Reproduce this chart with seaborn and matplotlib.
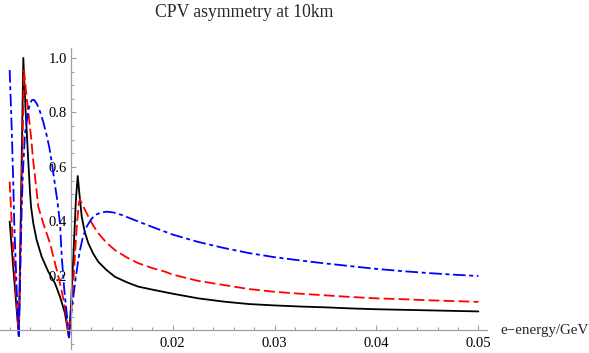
import numpy as np
import pandas as pd
import matplotlib
matplotlib.use("Agg")
import matplotlib.pyplot as plt
import seaborn as sns
from matplotlib.ticker import FixedLocator, FixedFormatter

# ---- data ----
black_x = [0.00400, 0.00445, 0.00490, 0.00512, 0.00534, 0.00557, 0.00583, 0.00600,
           0.00610, 0.00632, 0.00665, 0.00714, 0.00779, 0.00845, 0.00894, 0.00943,
           0.00982, 0.01000, 0.01025, 0.01050, 0.01068, 0.01085, 0.01107, 0.01135,
           0.01172, 0.01220, 0.01270, 0.01350, 0.01434, 0.01550, 0.01662, 0.01800,
           0.02000, 0.02250, 0.02500, 0.02750, 0.03000, 0.03250, 0.03500, 0.03750,
           0.04000, 0.04250, 0.04500, 0.04750, 0.05000]
black_y = [0.400, 0.185, -0.020, 0.490, 1.000, 0.803, 0.620, 0.505,
           0.454, 0.393, 0.332, 0.271, 0.216, 0.173, 0.124, 0.063,
           -0.025, 0.080, 0.270, 0.480, 0.567, 0.500, 0.418, 0.365,
           0.320, 0.282, 0.252, 0.222, 0.197, 0.177, 0.161, 0.150,
           0.135, 0.118, 0.106, 0.097, 0.092, 0.088, 0.085, 0.081,
           0.078, 0.076, 0.074, 0.072, 0.070]

red_x = [0.00400, 0.00420, 0.00453, 0.00490, 0.00515, 0.00541, 0.00560, 0.00583,
         0.00610, 0.00632, 0.00665, 0.00681, 0.00730, 0.00796, 0.00845, 0.00894,
         0.00936, 0.00982, 0.01010, 0.01035, 0.01060, 0.01080, 0.01090, 0.01130,
         0.01172, 0.01220, 0.01270, 0.01350, 0.01434, 0.01550, 0.01662, 0.01800,
         0.01924, 0.02000, 0.02250, 0.02500, 0.02750, 0.03000, 0.03250, 0.03500,
         0.03750, 0.04000, 0.04250, 0.04500, 0.04750, 0.05000]
red_y = [0.546, 0.393, 0.185, -0.020, 0.470, 0.956, 0.880, 0.803,
         0.710, 0.620, 0.510, 0.454, 0.393, 0.320, 0.247, 0.173,
         0.100, -0.025, 0.100, 0.240, 0.390, 0.470, 0.481, 0.450,
         0.418, 0.385, 0.357, 0.322, 0.295, 0.268, 0.247, 0.229,
         0.216, 0.205, 0.182, 0.167, 0.152, 0.142, 0.135, 0.129,
         0.123, 0.118, 0.115, 0.111, 0.108, 0.105]

blue_x = [0.00400, 0.00420, 0.00436, 0.00445, 0.00469, 0.00490, 0.00518, 0.00530,
          0.00550, 0.00580, 0.00600, 0.00620, 0.00640, 0.00670, 0.00698, 0.00730,
          0.00763, 0.00790, 0.00812, 0.00845, 0.00870, 0.00894, 0.00911, 0.00936,
          0.00960, 0.00982, 0.01010, 0.01041, 0.01070, 0.01090, 0.01120, 0.01156,
          0.01200, 0.01237, 0.01300, 0.01352, 0.01420, 0.01500, 0.01580, 0.01662,
          0.01800, 0.02000, 0.02250, 0.02500, 0.02750, 0.03000, 0.03250, 0.03500,
          0.03750, 0.04000, 0.04250, 0.04500, 0.04750, 0.05000]
blue_y = [0.956, 0.742, 0.534, 0.393, 0.149, -0.020, 0.450, 0.580,
          0.720, 0.800, 0.835, 0.846, 0.846, 0.830, 0.803, 0.765,
          0.717, 0.670, 0.620, 0.534, 0.470, 0.393, 0.271, 0.149,
          0.063, -0.025, 0.080, 0.173, 0.250, 0.295, 0.345, 0.381,
          0.408, 0.424, 0.433, 0.436, 0.433, 0.424, 0.412, 0.400,
          0.380, 0.352, 0.325, 0.303, 0.284, 0.269, 0.257, 0.246,
          0.236, 0.226, 0.218, 0.211, 0.205, 0.200]

x_ticks = [0.02, 0.03, 0.04, 0.05]
x_tick_labels = ["0.02", "0.03", "0.04", "0.05"]
y_ticks = [0.2, 0.4, 0.6, 0.8, 1.0]
y_tick_labels = ["0.2", "0.4", "0.6", "0.8", "1.0"]
title = "CPV asymmetry at 10km"
xlabel = "e\u2212energy/GeV"

df = pd.concat([
    pd.DataFrame({"x": black_x, "y": black_y, "s": "black"}),
    pd.DataFrame({"x": red_x, "y": red_y, "s": "red"}),
    pd.DataFrame({"x": blue_x, "y": blue_y, "s": "blue"}),
], ignore_index=True)

sns.set_theme(style="white")
plt.rcParams["font.family"] = ["Liberation Serif", "DejaVu Serif"]

fig = plt.figure(figsize=(5.89, 3.53), dpi=100)
ax = fig.add_axes([0.0, 4 / 353, 487 / 589, 301 / 353])

palette = {"black": "#000000", "red": "#ff0000", "blue": "#0000ff"}
dashes = {"black": "", "red": (6.0, 2.3), "blue": (7.0, 2.0, 2.2, 2.0)}
sns.lineplot(data=df, x="x", y="y", hue="s", style="s", palette=palette,
             dashes=dashes, estimator=None, sort=False, linewidth=1.3,
             legend=False, ax=ax)

ax.set_xlim(0.003052, 0.050844)
ax.set_ylim(-0.0679, 1.0367)
ax.set_xlabel("")
ax.set_ylabel("")

for s in ["top", "right"]:
    ax.spines[s].set_visible(False)
ax.spines["left"].set_position(("data", 0.01))
ax.spines["bottom"].set_position(("data", 0.0))
for s in ["left", "bottom"]:
    ax.spines[s].set_color("#a0a0a0")
    ax.spines[s].set_linewidth(0.9)

ax.xaxis.set_major_locator(FixedLocator(x_ticks))
ax.xaxis.set_major_formatter(FixedFormatter(x_tick_labels))
ax.yaxis.set_major_locator(FixedLocator(y_ticks))
ax.yaxis.set_major_formatter(FixedFormatter(y_tick_labels))
x_minor = [v for v in (0.004 + 0.002 * i for i in range(24))
           if abs(v * 100 - round(v * 100)) > 1e-6]
y_minor = [v for v in (-0.05 + 0.05 * i for i in range(22))
           if abs(v * 5 - round(v * 5)) > 1e-6]
ax.xaxis.set_minor_locator(FixedLocator(x_minor))
ax.yaxis.set_minor_locator(FixedLocator(y_minor))
ax.tick_params(which="both", direction="in", color="#a0a0a0", width=0.8,
               bottom=True, left=True, top=False, right=False,
               labelsize=10.5, labelcolor="black")
ax.tick_params(which="major", length=3.6)
ax.tick_params(which="minor", length=2.0)
ax.tick_params(axis="x", which="major", pad=5)
ax.tick_params(axis="y", which="major", pad=3)
ax.patch.set_alpha(0)

fig.text(244 / 589, 1 - 17 / 353, title, ha="center", va="baseline", fontsize=12.7)
fig.text(500 / 589, 1 - 334 / 353, xlabel, ha="left", va="baseline", fontsize=10.8)

fig.savefig("out.png", dpi=100, facecolor="white")
